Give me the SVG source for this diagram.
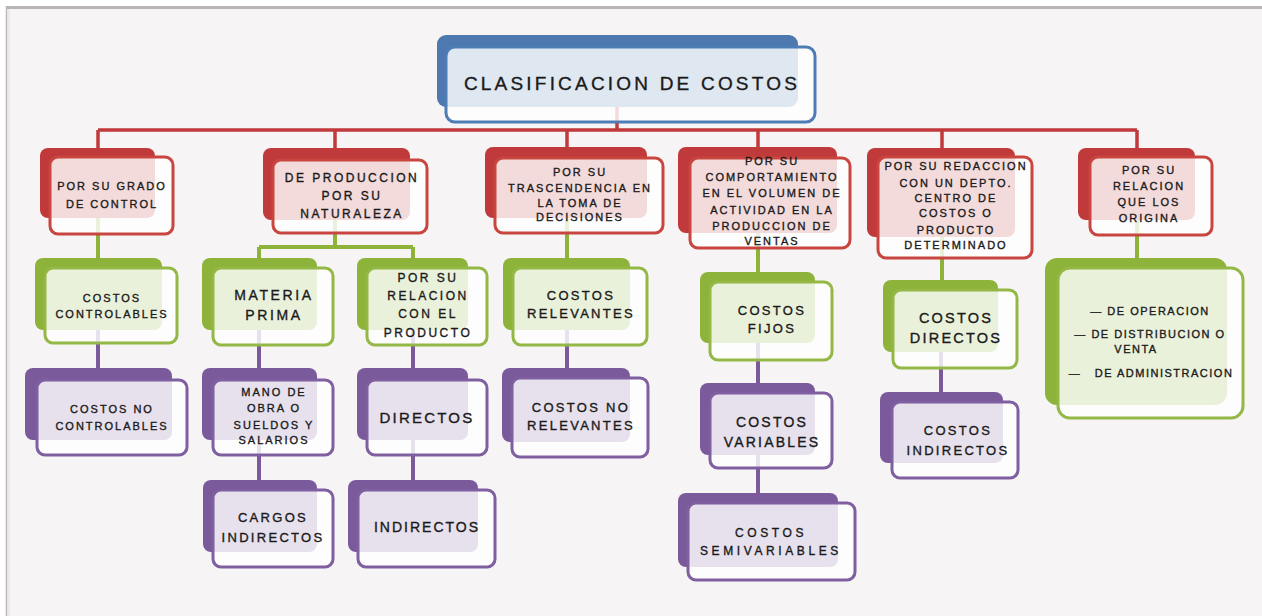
<svg xmlns="http://www.w3.org/2000/svg" width="1262" height="616" viewBox="0 0 1262 616">
<style>
.bk{stroke:none}
.fr{fill:#fff;fill-opacity:.82;stroke-width:3}
.r .bk{fill:#c0393b}.r .fr{stroke:#c8463f}
.g .bk{fill:#8db33b}.g .fr{stroke:#93b845}
.p .bk{fill:#7b5a9b}.p .fr{stroke:#7f5f9f}
.b .bk{fill:#4d78b0}.b .fr{stroke:#4e7cb5}
text{font-family:"Liberation Sans",Arial,sans-serif;fill:#1a1a1a;stroke:#1a1a1a;stroke-width:0.35;text-anchor:middle}
.s{font-size:11px;letter-spacing:2px}
.m{font-size:13px;letter-spacing:2.3px}
.l{font-size:14.5px;letter-spacing:2.2px}
.t{font-size:19px;letter-spacing:3.2px}
.cr{stroke:#c0393b;stroke-width:3.5;fill:none}
.cg{stroke:#8db33b;stroke-width:4;fill:none}
.cp{stroke:#7b5a9b;stroke-width:4;fill:none}
</style>
<rect x="0" y="0" width="1262" height="616" fill="#fff"/>
<rect x="7" y="8" width="1255" height="608" fill="#f6f4f4"/>
<line x1="6" y1="7.5" x2="1262" y2="7.5" stroke="#b9b5b5" stroke-width="3"/>
<line x1="6.5" y1="6" x2="6.5" y2="616" stroke="#bcb8b8" stroke-width="1.5"/>
<line x1="9" y1="9" x2="9" y2="616" stroke="#e8e6e6" stroke-width="1.5"/>

<g id="connectors">
<path class="cr" d="M617 107V130M98 130H1137M98 130V148M335 130V148M567 130V147M758 130V147M942 130V148M1137 130V148"/>
<path class="cg" d="M98 218V258M335 220V247M259 247H413M259 247V258M413 247V258M567 218V258M758 233V272M942 237V280M1137 220V258"/>
<path class="cp" d="M98 330V368M259 330V368M413 330V368M567 330V368M758 343V383M941 352V392M259 440V480M413 440V480M758 455V493"/>
</g>

<g id="n-title" class="b">
<rect class="bk" x="437" y="35" width="361" height="72" rx="9"/>
<rect class="fr" x="446" y="47" width="369" height="75" rx="9"/>
<text class="t" x="632" y="90">CLASIFICACION DE COSTOS</text>
</g>

<g id="n-grado" class="r">
<rect class="bk" x="40" y="148" width="115" height="70" rx="8"/>
<rect class="fr" x="50" y="157" width="123" height="77" rx="8"/>
<text class="s" x="112"><tspan x="112" y="190">POR SU GRADO</tspan><tspan x="112" y="208">DE CONTROL</tspan></text>
</g>

<g id="n-produccion" class="r">
<rect class="bk" x="263" y="148" width="147" height="72" rx="8"/>
<rect class="fr" x="273" y="160" width="154" height="73" rx="8"/>
<text class="s" style="font-size:12px;letter-spacing:2.5px"><tspan x="352" y="182">DE PRODUCCION</tspan><tspan x="352" y="200">POR SU</tspan><tspan x="352" y="218">NATURALEZA</tspan></text>
</g>

<g id="n-trascendencia" class="r">
<rect class="bk" x="485" y="147" width="162" height="71" rx="8"/>
<rect class="fr" x="495" y="158" width="168" height="75" rx="8"/>
<text class="s"><tspan x="580" y="176">POR SU</tspan><tspan x="580" y="192">TRASCENDENCIA EN</tspan><tspan x="580" y="207">LA TOMA DE</tspan><tspan x="580" y="221">DECISIONES</tspan></text>
</g>

<g id="n-comportamiento" class="r">
<rect class="bk" x="678" y="147" width="159" height="86" rx="8"/>
<rect class="fr" x="690" y="158" width="160" height="90" rx="8"/>
<text class="s"><tspan x="772" y="165">POR SU</tspan><tspan x="772" y="181">COMPORTAMIENTO</tspan><tspan x="772" y="197">EN EL VOLUMEN DE</tspan><tspan x="772" y="214">ACTIVIDAD EN LA</tspan><tspan x="772" y="230">PRODUCCION DE</tspan><tspan x="772" y="245">VENTAS</tspan></text>
</g>

<g id="n-redaccion" class="r">
<rect class="bk" x="867" y="148" width="148" height="89" rx="8"/>
<rect class="fr" x="878" y="157" width="154" height="101" rx="8"/>
<text class="s"><tspan x="956" y="170">POR SU REDACCION</tspan><tspan x="956" y="187">CON UN DEPTO.</tspan><tspan x="956" y="202">CENTRO DE</tspan><tspan x="956" y="217">COSTOS O</tspan><tspan x="956" y="234">PRODUCTO</tspan><tspan x="956" y="249">DETERMINADO</tspan></text>
</g>

<g id="n-origina" class="r">
<rect class="bk" x="1078" y="148" width="117" height="72" rx="8"/>
<rect class="fr" x="1090" y="157" width="122" height="78" rx="8"/>
<text class="s"><tspan x="1149" y="174">POR SU</tspan><tspan x="1149" y="190">RELACION</tspan><tspan x="1149" y="206">QUE LOS</tspan><tspan x="1149" y="222">ORIGINA</tspan></text>
</g>

<g id="n-controlables" class="g">
<rect class="bk" x="35" y="258" width="127" height="72" rx="8"/>
<rect class="fr" x="45" y="268" width="132" height="75" rx="8"/>
<text class="s"><tspan x="112" y="302">COSTOS</tspan><tspan x="112" y="318">CONTROLABLES</tspan></text>
</g>

<g id="n-materia" class="g">
<rect class="bk" x="202" y="258" width="115" height="72" rx="8"/>
<rect class="fr" x="213" y="268" width="120" height="77" rx="8"/>
<text class="l" style="font-size:14px;letter-spacing:2.6px"><tspan x="274" y="300">MATERIA</tspan><tspan x="274" y="320">PRIMA</tspan></text>
</g>

<g id="n-relacion-producto" class="g">
<rect class="bk" x="357" y="258" width="111" height="72" rx="8"/>
<rect class="fr" x="367" y="268" width="120" height="77" rx="8"/>
<text class="s" style="font-size:12px;letter-spacing:2.5px"><tspan x="428" y="282">POR SU</tspan><tspan x="428" y="300">RELACION</tspan><tspan x="428" y="318">CON EL</tspan><tspan x="428" y="337">PRODUCTO</tspan></text>
</g>

<g id="n-relevantes" class="g">
<rect class="bk" x="503" y="258" width="127" height="72" rx="8"/>
<rect class="fr" x="513" y="268" width="134" height="77" rx="8"/>
<text class="m"><tspan x="581" y="300">COSTOS</tspan><tspan x="581" y="318">RELEVANTES</tspan></text>
</g>

<g id="n-fijos" class="g">
<rect class="bk" x="700" y="272" width="115" height="71" rx="8"/>
<rect class="fr" x="710" y="282" width="122" height="78" rx="8"/>
<text class="m"><tspan x="772" y="315">COSTOS</tspan><tspan x="772" y="333">FIJOS</tspan></text>
</g>

<g id="n-directos6" class="g">
<rect class="bk" x="883" y="280" width="115" height="72" rx="8"/>
<rect class="fr" x="893" y="290" width="124" height="78" rx="8"/>
<text class="l"><tspan x="956" y="323">COSTOS</tspan><tspan x="956" y="343">DIRECTOS</tspan></text>
</g>

<g id="n-lista" class="g">
<rect class="bk" x="1045" y="258" width="182" height="147" rx="12"/>
<rect class="fr" x="1058" y="268" width="185" height="150" rx="12"/>
<text class="s" style="letter-spacing:1.5px" xml:space="preserve"><tspan x="1150" y="315">— DE OPERACION</tspan><tspan x="1150" y="338">— DE DISTRIBUCION O</tspan><tspan x="1136" y="353">VENTA</tspan><tspan x="1151" y="377">—   DE ADMINISTRACION</tspan></text>
</g>

<g id="n-no-controlables" class="p">
<rect class="bk" x="25" y="368" width="147" height="72" rx="8"/>
<rect class="fr" x="37" y="380" width="150" height="75" rx="8"/>
<text class="s"><tspan x="112" y="413">COSTOS NO</tspan><tspan x="112" y="430">CONTROLABLES</tspan></text>
</g>

<g id="n-mano-obra" class="p">
<rect class="bk" x="202" y="368" width="115" height="72" rx="8"/>
<rect class="fr" x="213" y="380" width="120" height="75" rx="8"/>
<text class="s"><tspan x="274" y="396">MANO DE</tspan><tspan x="274" y="412">OBRA O</tspan><tspan x="274" y="429">SUELDOS Y</tspan><tspan x="274" y="444">SALARIOS</tspan></text>
</g>

<g id="n-directos3" class="p">
<rect class="bk" x="357" y="368" width="111" height="72" rx="8"/>
<rect class="fr" x="367" y="380" width="120" height="75" rx="8"/>
<text class="l" style="font-size:15px"><tspan x="427" y="423">DIRECTOS</tspan></text>
</g>

<g id="n-no-relevantes" class="p">
<rect class="bk" x="502" y="368" width="128" height="74" rx="8"/>
<rect class="fr" x="512" y="378" width="136" height="79" rx="8"/>
<text class="m"><tspan x="581" y="412">COSTOS NO</tspan><tspan x="581" y="430">RELEVANTES</tspan></text>
</g>

<g id="n-variables" class="p">
<rect class="bk" x="700" y="383" width="115" height="72" rx="8"/>
<rect class="fr" x="710" y="393" width="122" height="75" rx="8"/>
<text class="l" style="font-size:14px"><tspan x="772" y="427">COSTOS</tspan><tspan x="772" y="447">VARIABLES</tspan></text>
</g>

<g id="n-semivariables" class="p">
<rect class="bk" x="678" y="493" width="160" height="74" rx="8"/>
<rect class="fr" x="688" y="503" width="167" height="77" rx="8"/>
<text class="s" style="font-size:12px;letter-spacing:3.6px"><tspan x="771" y="537">COSTOS</tspan><tspan x="771" y="555">SEMIVARIABLES</tspan></text>
</g>

<g id="n-indirectos6" class="p">
<rect class="bk" x="880" y="392" width="123" height="71" rx="8"/>
<rect class="fr" x="892" y="402" width="126" height="76" rx="8"/>
<text class="m"><tspan x="958" y="435">COSTOS</tspan><tspan x="958" y="455">INDIRECTOS</tspan></text>
</g>

<g id="n-cargos" class="p">
<rect class="bk" x="203" y="480" width="114" height="72" rx="8"/>
<rect class="fr" x="213" y="490" width="120" height="77" rx="8"/>
<text class="m"><tspan x="273" y="522">CARGOS</tspan><tspan x="273" y="542">INDIRECTOS</tspan></text>
</g>

<g id="n-indirectos3" class="p">
<rect class="bk" x="348" y="480" width="130" height="72" rx="8"/>
<rect class="fr" x="358" y="490" width="137" height="77" rx="8"/>
<text class="l" style="font-size:14px;letter-spacing:2px"><tspan x="427" y="532">INDIRECTOS</tspan></text>
</g>
</svg>
